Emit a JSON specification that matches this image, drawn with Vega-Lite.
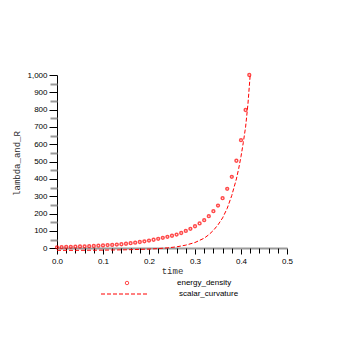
{
  "$schema": "https://vega.github.io/schema/vega-lite/v6.json",
  "autosize": {"type": "none"},
  "padding": {"left": 57, "top": 75, "right": 67, "bottom": 103},
  "width": 230,
  "height": 176,
  "background": "white",
  "config": {"view": {"stroke": null}},
  "data": {"values": [
    {"t": 0.00, "value": 5, "series": "energy_density"},
    {"t": 0.01, "value": 6, "series": "energy_density"},
    {"t": 0.02, "value": 7, "series": "energy_density"},
    {"t": 0.03, "value": 8, "series": "energy_density"},
    {"t": 0.04, "value": 9, "series": "energy_density"},
    {"t": 0.05, "value": 10, "series": "energy_density"},
    {"t": 0.06, "value": 11, "series": "energy_density"},
    {"t": 0.07, "value": 12, "series": "energy_density"},
    {"t": 0.08, "value": 13, "series": "energy_density"},
    {"t": 0.09, "value": 15, "series": "energy_density"},
    {"t": 0.10, "value": 16, "series": "energy_density"},
    {"t": 0.11, "value": 18, "series": "energy_density"},
    {"t": 0.12, "value": 19, "series": "energy_density"},
    {"t": 0.13, "value": 21, "series": "energy_density"},
    {"t": 0.14, "value": 23, "series": "energy_density"},
    {"t": 0.15, "value": 26, "series": "energy_density"},
    {"t": 0.16, "value": 29, "series": "energy_density"},
    {"t": 0.17, "value": 32, "series": "energy_density"},
    {"t": 0.18, "value": 36, "series": "energy_density"},
    {"t": 0.19, "value": 40, "series": "energy_density"},
    {"t": 0.20, "value": 44, "series": "energy_density"},
    {"t": 0.21, "value": 49, "series": "energy_density"},
    {"t": 0.22, "value": 54, "series": "energy_density"},
    {"t": 0.23, "value": 60, "series": "energy_density"},
    {"t": 0.24, "value": 66, "series": "energy_density"},
    {"t": 0.25, "value": 72, "series": "energy_density"},
    {"t": 0.26, "value": 79, "series": "energy_density"},
    {"t": 0.27, "value": 88, "series": "energy_density"},
    {"t": 0.28, "value": 100, "series": "energy_density"},
    {"t": 0.29, "value": 112, "series": "energy_density"},
    {"t": 0.30, "value": 127, "series": "energy_density"},
    {"t": 0.31, "value": 143, "series": "energy_density"},
    {"t": 0.32, "value": 162, "series": "energy_density"},
    {"t": 0.33, "value": 185, "series": "energy_density"},
    {"t": 0.34, "value": 214, "series": "energy_density"},
    {"t": 0.35, "value": 246, "series": "energy_density"},
    {"t": 0.36, "value": 289, "series": "energy_density"},
    {"t": 0.37, "value": 343, "series": "energy_density"},
    {"t": 0.38, "value": 412, "series": "energy_density"},
    {"t": 0.39, "value": 505, "series": "energy_density"},
    {"t": 0.40, "value": 624, "series": "energy_density"},
    {"t": 0.41, "value": 798, "series": "energy_density"},
    {"t": 0.418, "value": 1000, "series": "energy_density"},
    {"t": 0.00, "value": -12, "series": "scalar_curvature"},
    {"t": 0.05, "value": -12, "series": "scalar_curvature"},
    {"t": 0.10, "value": -11, "series": "scalar_curvature"},
    {"t": 0.15, "value": -9, "series": "scalar_curvature"},
    {"t": 0.20, "value": -5, "series": "scalar_curvature"},
    {"t": 0.22, "value": -2, "series": "scalar_curvature"},
    {"t": 0.24, "value": 2, "series": "scalar_curvature"},
    {"t": 0.26, "value": 8, "series": "scalar_curvature"},
    {"t": 0.28, "value": 18, "series": "scalar_curvature"},
    {"t": 0.30, "value": 33, "series": "scalar_curvature"},
    {"t": 0.32, "value": 58, "series": "scalar_curvature"},
    {"t": 0.33, "value": 78, "series": "scalar_curvature"},
    {"t": 0.34, "value": 103, "series": "scalar_curvature"},
    {"t": 0.35, "value": 135, "series": "scalar_curvature"},
    {"t": 0.36, "value": 175, "series": "scalar_curvature"},
    {"t": 0.37, "value": 230, "series": "scalar_curvature"},
    {"t": 0.38, "value": 305, "series": "scalar_curvature"},
    {"t": 0.39, "value": 400, "series": "scalar_curvature"},
    {"t": 0.395, "value": 460, "series": "scalar_curvature"},
    {"t": 0.40, "value": 530, "series": "scalar_curvature"},
    {"t": 0.405, "value": 610, "series": "scalar_curvature"},
    {"t": 0.41, "value": 700, "series": "scalar_curvature"},
    {"t": 0.415, "value": 830, "series": "scalar_curvature"},
    {"t": 0.42, "value": 1000, "series": "scalar_curvature"}
  ]},
  "resolve": {"axis": {"x": "independent", "y": "independent"}},
  "layer": [
    {
      "transform": [{"filter": "datum.series === 'energy_density'"}],
      "mark": {"type": "point", "filled": false, "strokeWidth": 1.5, "size": 8, "clip": false},
      "encoding": {
        "x": {"field": "t", "type": "quantitative", "scale": {"domain": [0, 0.5], "nice": false},
          "axis": {"orient": "bottom", "offset": -3, "values": [0, 0.1, 0.2, 0.3, 0.4, 0.5], "format": ".1f", "labelFlush": false,
            "grid": false, "domainColor": "#999999", "domainWidth": 2, "tickColor": "#000000", "tickSize": 6, "tickWidth": 1,
            "labelFont": "Liberation Sans", "labelFontSize": 8, "labelColor": "#000000", "labelPadding": 3,
            "title": "time", "titleFont": "Liberation Mono", "titleFontSize": 9, "titleFontWeight": "normal", "titleColor": "#333333", "titlePadding": 1}},
        "y": {"field": "value", "type": "quantitative", "scale": {"domain": [-16, 1000], "nice": false, "zero": false},
          "axis": {"orient": "left", "values": [0, 100, 200, 300, 400, 500, 600, 700, 800, 900, 1000], "format": ",.0f", "labelFlush": false,
            "grid": false, "domainColor": "#000000", "domainWidth": 1, "tickColor": "#000000", "tickSize": 8, "tickWidth": 1,
            "labelFont": "Liberation Sans", "labelFontSize": 8, "labelColor": "#000000", "labelPadding": 2,
            "title": "lambda_and_R", "titleFont": "Liberation Mono", "titleFontSize": 9, "titleFontWeight": "normal", "titleColor": "#333333", "titlePadding": 5}},
        "color": {"field": "series", "type": "nominal", "scale": {"domain": ["energy_density"], "range": ["#ff0000"]},
          "legend": {"orient": "none", "legendX": 66, "legendY": 204, "padding": 0, "title": null, "symbolType": "circle", "symbolSize": 12, "symbolFillColor": "#ff0000", "symbolStrokeColor": "#ff0000", "symbolStrokeWidth": 1, "labelOffset": 46, "labelFont": "Liberation Sans", "labelFontSize": 8, "labelColor": "#000000"}}
      }
    },
    {
      "transform": [{"filter": "datum.series === 'scalar_curvature'"}],
      "mark": {"type": "line", "color": "#ff0000", "strokeWidth": 1, "clip": true},
      "encoding": {
        "x": {"field": "t", "type": "quantitative",
          "axis": {"orient": "bottom", "offset": -3, "values": [0.02, 0.04, 0.06, 0.08, 0.12, 0.14, 0.16, 0.18, 0.22, 0.24, 0.26, 0.28, 0.32, 0.34, 0.36, 0.38, 0.42, 0.44, 0.46, 0.48],
            "grid": false, "domain": false, "labels": false, "tickColor": "#000000", "tickSize": 5, "title": null}},
        "y": {"field": "value", "type": "quantitative",
          "axis": {"orient": "left", "values": [50, 150, 250, 350, 450, 550, 650, 750, 850, 950],
            "grid": false, "domain": false, "labels": false, "tickColor": "#999999", "tickSize": 7, "tickWidth": 2, "title": null}},
        "strokeDash": {"field": "series", "type": "nominal", "scale": {"domain": ["scalar_curvature"], "range": [[4, 2]]},
          "legend": {"orient": "none", "legendX": 43, "legendY": 194, "padding": 0, "title": null, "symbolType": "stroke", "symbolSize": 2304, "symbolStrokeColor": "#ff0000", "symbolStrokeWidth": 1.2, "labelOffset": 29, "labelFont": "Liberation Sans", "labelFontSize": 8, "labelColor": "#000000"}}
      }
    }
  ]
}
